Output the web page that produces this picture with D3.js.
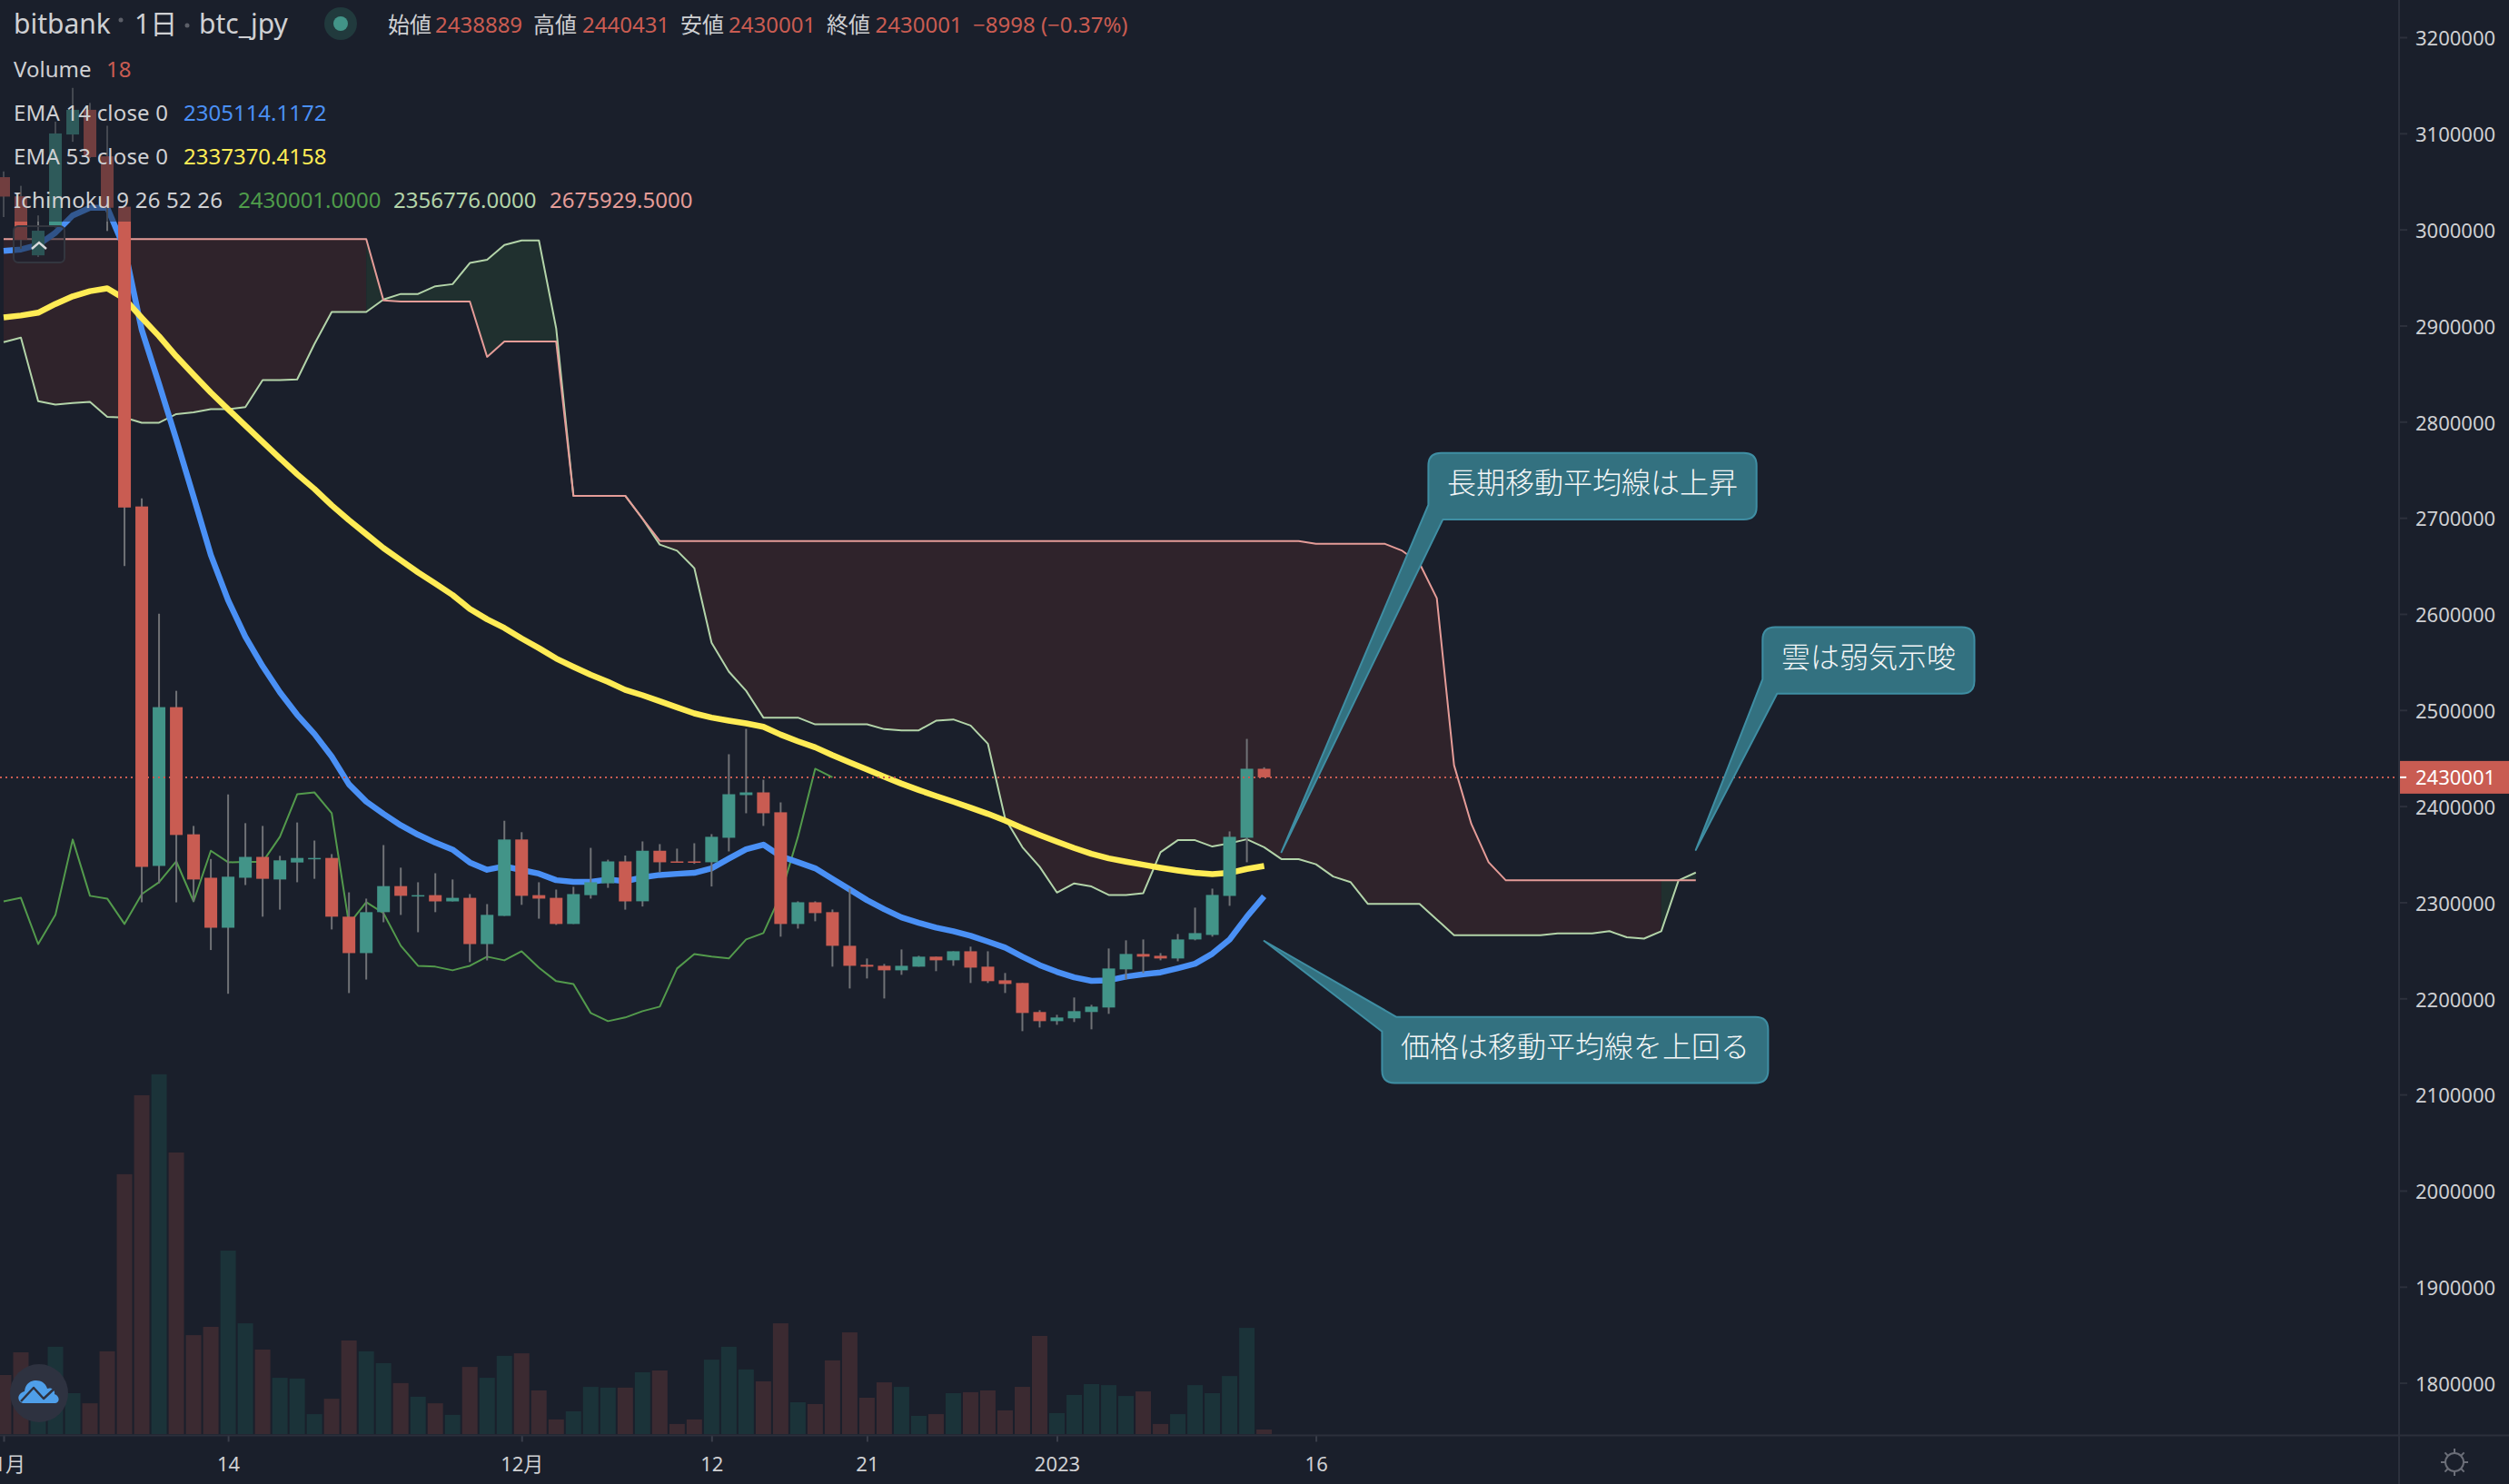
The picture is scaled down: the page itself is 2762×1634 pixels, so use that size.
<!DOCTYPE html>
<html lang="ja">
<head>
<meta charset="utf-8">
<title>bitbank btc_jpy</title>
<script src="https://cdn.jsdelivr.net/npm/d3@7"></script>
<style>
html,body{margin:0;padding:0;background:#1a1f2b;}
svg{display:block;}
text{font-family:"Noto Sans","Noto Sans CJK JP",sans-serif;}
</style>
</head>
<body>
<svg id="chart" width="2762" height="1634"></svg>
<script>
// Prices are in thousands of JPY.
const opens = [3054.4,3034.5,2973.1,3003.8,3098.8,3124.5,3076.1,3023.7,2711.8,2337.8,2503.0,2370.7,2325.5,2273.5,2325.5,2347.2,2323.7,2341.4,2345.4,2346.1,2285.0,2247.1,2289.7,2316.8,2306.7,2307.4,2300.9,2304.6,2256.5,2285.8,2365.3,2307.4,2304.6,2277.4,2307.4,2319.7,2342.5,2301.0,2353.6,2342.5,2342.5,2341.6,2367.1,2411.5,2414.3,2393.6,2277.4,2300.0,2289.7,2254.7,2234.9,2233.9,2229.2,2233.0,2243.4,2239.6,2249.0,2233.0,2218.8,2216.0,2185.8,2176.3,2179.2,2185.8,2190.5,2230.2,2246.2,2244.3,2241.5,2261.3,2266.0,2306.6,2367.1,2438.889];
const highs = [3060.5,3045.4,3014.6,3112.2,3147.3,3131.7,3107.9,3024.5,2720.1,2600.2,2520.0,2379.4,2345.0,2412.2,2382.3,2379.4,2348.3,2383.0,2364.2,2350.1,2310.3,2303.8,2359.5,2336.0,2320.8,2330.2,2323.7,2308.5,2298.1,2384.8,2372.9,2320.8,2313.2,2316.1,2356.6,2344.3,2348.6,2363.3,2360.5,2355.8,2361.4,2370.9,2454.0,2480.4,2427.5,2403.9,2301.0,2301.0,2292.5,2314.2,2241.5,2235.8,2250.9,2244.3,2243.4,2249.0,2253.8,2249.0,2226.4,2216.0,2187.7,2182.9,2200.9,2193.3,2251.9,2260.4,2261.3,2247.1,2267.0,2294.4,2314.2,2373.7,2470.0,2440.431];
const lows = [3012.8,2980.0,2971.3,3002.0,3091.2,3074.3,2998.4,2649.7,2299.9,2319.7,2299.9,2300.6,2250.3,2204.8,2317.9,2285.0,2292.3,2320.8,2324.4,2271.7,2205.5,2219.6,2279.2,2286.8,2268.8,2289.7,2300.9,2237.7,2239.5,2285.8,2297.3,2282.9,2276.4,2277.4,2303.8,2315.0,2292.3,2295.6,2331.2,2341.9,2340.0,2316.4,2352.9,2392.6,2379.4,2264.2,2272.6,2280.2,2233.0,2210.3,2220.7,2199.9,2224.5,2233.0,2228.3,2233.9,2216.0,2216.0,2205.6,2165.9,2169.7,2172.5,2175.4,2167.8,2183.9,2219.8,2226.4,2239.6,2238.6,2260.4,2264.2,2296.3,2341.6,2430.001];
const closes = [3034.2,2989.3,2998.7,3099.9,3124.5,3075.3,3022.6,2710.7,2336.8,2503.0,2370.0,2323.7,2273.5,2326.6,2347.2,2324.4,2343.6,2346.1,2346.1,2285.0,2247.1,2289.7,2316.8,2306.7,2307.4,2300.9,2304.6,2256.5,2286.9,2365.3,2306.7,2303.8,2277.4,2308.5,2320.8,2342.5,2300.9,2353.6,2341.6,2341.9,2341.9,2368.1,2412.4,2414.3,2392.6,2277.4,2300.0,2288.7,2254.7,2233.9,2233.0,2229.2,2233.9,2243.4,2239.6,2249.0,2232.0,2217.9,2215.0,2184.8,2176.3,2180.1,2186.7,2191.4,2231.1,2246.2,2243.4,2241.5,2261.3,2267.9,2307.6,2368.1,2438.9,2430.001];
const volumes = [234,324,212,346,162,122,328,1030,1343,1426,1116,392,425,727,439,335,223,220,79,140,371,328,281,202,148,122,76,266,223,310,320,173,58,90,187,184,184,245,252,40,58,295,346,256,209,439,126,119,292,403,144,205,187,72,79,162,166,173,94,187,389,83,155,198,194,151,169,40,79,194,162,230,421,18];
const ema14 = [2977.8,2979.2,2983.9,2996.6,3014.6,3022.6,3022.6,2980.3,2895.4,2839.3,2781.5,2721.9,2661.3,2614.3,2576.3,2545.6,2518.5,2495.0,2475.1,2451.6,2422.7,2404.7,2392.0,2380.1,2370.3,2362.0,2354.8,2341.4,2333.8,2337.4,2333.5,2329.8,2323.0,2321.2,2321.2,2323.7,2321.9,2325.9,2328.4,2329.6,2330.6,2335.3,2345.4,2355.1,2359.9,2347.9,2341.6,2335.3,2324.3,2313.3,2302.2,2292.8,2284.3,2278.6,2273.6,2269.8,2265.1,2259.1,2252.8,2243.4,2234.6,2227.6,2221.9,2218.2,2218.8,2222.6,2225.1,2227.0,2231.4,2236.1,2246.5,2261.3,2284.9,2306.3];
const ema53 = [2908.4,2910.5,2913.4,2922.5,2930.4,2935.8,2938.7,2928.0,2908.0,2889.0,2868.0,2849.0,2830.3,2813.0,2796.0,2779.0,2762.0,2745.4,2730.0,2713.0,2697.5,2683.0,2668.5,2655.8,2643.2,2631.6,2619.7,2605.2,2594.4,2585.4,2574.5,2564.4,2553.6,2544.9,2536.6,2529.3,2521.0,2515.4,2509.1,2502.8,2496.5,2492.1,2488.9,2486.1,2482.6,2474.4,2467.5,2461.2,2453.0,2445.5,2438.2,2430.7,2423.4,2416.8,2410.5,2404.6,2398.3,2392.0,2385.0,2377.2,2369.9,2363.0,2356.4,2350.4,2345.7,2342.2,2339.1,2335.9,2333.1,2330.6,2329.3,2330.6,2334.7,2337.8];
const laggingSpan = [2300.9,2304.6,2256.5,2286.9,2365.3,2306.7,2303.8,2277.4,2308.5,2320.8,2342.5,2300.9,2353.6,2341.6,2341.9,2341.9,2368.1,2412.4,2414.3,2392.6,2277.4,2300.0,2288.7,2254.7,2233.9,2233.0,2229.2,2233.9,2243.4,2239.6,2249.0,2232.0,2217.9,2215.0,2184.8,2176.3,2180.1,2186.7,2191.4,2231.1,2246.2,2243.4,2241.5,2261.3,2267.9,2307.6,2368.1,2438.9,2430.0];
const spanA = [2882.7,2887.4,2821.3,2817.7,2819.5,2820.6,2805.0,2804.3,2798.9,2798.9,2807.9,2809.7,2813.0,2813.0,2815.1,2843.3,2843.3,2844.0,2880.9,2914.2,2914.2,2914.2,2927.2,2932.9,2932.9,2940.9,2943.1,2965.1,2968.4,2983.9,2988.6,2988.6,2897.2,2722.9,2722.9,2722.9,2722.9,2699.0,2672.1,2665.8,2647.6,2569.9,2540.0,2520.0,2492.1,2492.1,2492.1,2485.1,2485.1,2485.1,2485.1,2480.1,2478.9,2478.9,2488.9,2490.2,2483.9,2465.0,2387.2,2357.3,2336.9,2310.1,2319.6,2316.4,2307.6,2307.6,2309.5,2352.0,2364.6,2364.6,2358.0,2361.4,2365.5,2357.3,2344.9,2344.9,2339.5,2326.8,2321.0,2298.4,2298.4,2298.4,2298.4,2282.1,2265.8,2265.8,2265.8,2265.8,2265.8,2265.8,2267.6,2267.6,2267.6,2269.9,2263.6,2262.2,2269.9,2322.8,2330.9];
const spanB = [2990,2990,2990,2990,2990,2990,2990,2990,2990,2990,2990,2990,2990,2990,2990,2990,2990,2990,2990,2990,2990,2990,2926.1,2925,2925,2925,2925,2925,2867.5,2883.4,2883.4,2883.4,2883.4,2722.9,2722.9,2722.9,2722.9,2699.0,2675.9,2675.9,2675.9,2675.9,2675.9,2675.9,2675.9,2675.9,2675.9,2675.9,2675.9,2675.9,2675.9,2675.9,2675.9,2675.9,2675.9,2675.9,2675.9,2675.9,2675.9,2675.9,2675.9,2675.9,2675.9,2675.9,2675.9,2675.9,2675.9,2675.9,2675.9,2675.9,2675.9,2675.9,2675.9,2675.9,2675.9,2675.9,2672.9,2672.9,2672.9,2672.9,2672.9,2665.7,2652.6,2616.4,2442.5,2381.5,2341.7,2322.8,2322.8,2322.8,2322.8,2322.8,2322.8,2322.8,2322.8,2322.8,2322.8,2322.8,2322.8];
const priceTicks = [3200,3100,3000,2900,2800,2700,2600,2500,2400,2300,2200,2100,2000,1900,1800];
const timeTickIndex = [0,13,30,41,50,61,76];
const timeTickLabels = ["11月","14","12月","12","21","2023","16"];
const lastPrice = 2430.001;
const callouts = [
  {text:"長期移動平均線は上昇", tipIndex:74, tipPrice:2352.1},
  {text:"雲は弱気示唆", tipIndex:98, tipPrice:2354.4},
  {text:"価格は移動平均線を上回る", tipIndex:73, tipPrice:2259.8}
];

const calloutBoxes = [
  {x0:1572.4,x1:1933.7,y0:498.7,y1:571.9,corner:"bottom"},
  {x0:1940.3,x1:2173.5,y0:690.6,y1:763.8,corner:"bottom"},
  {x0:1521.4,x1:1946.4,y0:1119.8,y1:1192.5,corner:"top"}
];

const C = {bg:"#1a1f2b",red:"#c95c52",green:"#429488",wick:"#707276",volRed:"#3b2a31",volGreen:"#1b3339",
  blue:"#4a90f5",yellow:"#ffec55",lag:"#539a4c",a:"#b3d4a9",b:"#e59c98",cloudRed:"#2f232b",cloudGreen:"#20302f",
  axis:"#2c303c",text:"#cfd0d3",call:"#337180",callStroke:"#3f8ea3"};

const svg = d3.select("#chart");
const axisX = 2641, axisY = 1580.5;
const x = d3.scaleLinear().domain([0,73]).range([4,1391.6]);
const y = d3.scaleLinear().domain([3200,1800]).range([41,1522.6]);
const yVol = d3.scaleLinear().domain([0,1500]).range([1579,1162.3]);

svg.append("rect").attr("width",2762).attr("height",1634).attr("fill",C.bg);
svg.append("defs").append("clipPath").attr("id","plot").append("rect")
  .attr("width",axisX).attr("height",axisY);
const plot = svg.append("g").attr("clip-path","url(#plot)");

// cloud fill: runs of segments coloured by the sign at the segment's end
const idx = d3.range(spanA.length);
const runs = [];
for (let i=0;i<idx.length-1;i++){
  const up = spanA[i+1] >= spanB[i+1];
  if(!runs.length || runs[runs.length-1].up!==up) runs.push({up,pts:[i,i+1]});
  else runs[runs.length-1].pts.push(i+1);
}
const cloudArea = d3.area().x(i=>x(i)).y0(i=>y(spanA[i])).y1(i=>y(spanB[i]));
plot.append("g").selectAll("path").data(runs).join("path")
  .attr("d",d=>cloudArea(d.pts)).attr("fill",d=>d.up?C.cloudGreen:C.cloudRed);

// volume
const isUp = i=>closes[i]>=opens[i];
plot.append("g").selectAll("rect").data(volumes).join("rect")
  .attr("x",(d,i)=>x(i)-8.5).attr("width",17)
  .attr("y",d=>yVol(d)).attr("height",d=>yVol(0)-yVol(d))
  .attr("fill",(d,i)=>isUp(i)?C.volGreen:C.volRed);

// lines
const lineOf = arr => d3.line().x((d,i)=>x(i)).y(d=>y(d))(arr);
const addLine=(arr,color,w)=>plot.append("path").attr("d",lineOf(arr)).attr("fill","none")
  .attr("stroke",color).attr("stroke-width",w).attr("stroke-linejoin","round");
addLine(spanA,C.a,2);
addLine(spanB,C.b,2);
addLine(laggingSpan,C.lag,2);
addLine(ema14,C.blue,6.5);
addLine(ema53,C.yellow,6.5);

// candles
const candles = plot.append("g").selectAll("g").data(opens).join("g");
candles.append("line").attr("x1",(d,i)=>x(i)).attr("x2",(d,i)=>x(i))
  .attr("y1",(d,i)=>y(highs[i])).attr("y2",(d,i)=>y(lows[i]))
  .attr("stroke",C.wick).attr("stroke-width",2);
candles.append("rect").attr("x",(d,i)=>x(i)-7).attr("width",14)
  .attr("y",(d,i)=>y(Math.max(opens[i],closes[i])))
  .attr("height",(d,i)=>Math.max(1.5,Math.abs(y(opens[i])-y(closes[i]))))
  .attr("fill",(d,i)=>isUp(i)?C.green:C.red);

// last price line
plot.append("line").attr("x1",0).attr("x2",axisX).attr("y1",y(lastPrice)).attr("y2",y(lastPrice))
  .attr("stroke",C.red).attr("stroke-width",2).attr("stroke-dasharray","2 4");

// legend dimming panel and collapse button
svg.append("rect").attr("x",0).attr("y",0).attr("width",770).attr("height",244).attr("fill",C.bg).attr("opacity",0.5);
svg.append("rect").attr("x",15).attr("y",249).attr("width",56).attr("height",40).attr("rx",5)
  .attr("fill",C.bg).attr("fill-opacity",0.55).attr("stroke","#33363f").attr("stroke-width",2);
svg.append("path").attr("d","M35 274 L43 267 L51 274").attr("fill","none").attr("stroke","#d8d9dc").attr("stroke-width",2.4);

// legend text
const leg = svg.append("g");
const T=(txt,px,py,size,fill)=>leg.append("text").attr("x",px).attr("y",py).attr("font-size",size).attr("fill",fill).text(txt);
T("bitbank",15,37,30,C.text);
T("1日",148,37,30,C.text);
T("btc_jpy",219,37,30,C.text);
leg.append("circle").attr("cx",133).attr("cy",22).attr("r",2.5).attr("fill","#5c5f68");
leg.append("circle").attr("cx",206).attr("cy",28).attr("r",2.5).attr("fill","#5c5f68");
leg.append("circle").attr("cx",375).attr("cy",26).attr("r",18).attr("fill","#213a3d");
leg.append("circle").attr("cx",375).attr("cy",26).attr("r",8).attr("fill",C.green);
[["始値",427,"2438889",479],["高値",587,"2440431",641],["安値",749,"2430001",802],["終値",910,"2430001",963.5]].forEach(r=>{
  T(r[0],r[1],36,24,C.text); T(r[2],r[3],36,24,C.red);
});
T("−8998 (−0.37%)",1071,36,24,C.red);
T("Volume",15,85,24,C.text); T("18",117,85,24,C.red);
T("EMA 14 close 0",15,133,24,C.text).attr("textLength",170);
T("2305114.1172",202,133,24,C.blue);
T("EMA 53 close 0",15,181,24,C.text).attr("textLength",170);
T("2337370.4158",202,181,24,C.yellow);
T("Ichimoku 9 26 52 26",15,229,24,C.text).attr("textLength",230);
T("2430001.0000",262,229,24,"#4f9c4a"); T("2356776.0000",433,229,24,C.a); T("2675929.5000",605,229,24,C.b);

// callouts
const callG = svg.append("g");
callouts.forEach((c,k)=>{
  const b=calloutBoxes[k], r=14, s=16, tx=x(c.tipIndex), ty=y(c.tipPrice);
  let p;
  if(b.corner==="bottom"){
    p=`M${b.x0+r},${b.y0}H${b.x1-r}Q${b.x1},${b.y0} ${b.x1},${b.y0+r}V${b.y1-r}Q${b.x1},${b.y1} ${b.x1-r},${b.y1}H${b.x0+s}L${tx},${ty}L${b.x0},${b.y1-s}V${b.y0+r}Q${b.x0},${b.y0} ${b.x0+r},${b.y0}Z`;
  } else {
    p=`M${tx},${ty}L${b.x0+s},${b.y0}H${b.x1-r}Q${b.x1},${b.y0} ${b.x1},${b.y0+r}V${b.y1-r}Q${b.x1},${b.y1} ${b.x1-r},${b.y1}H${b.x0+r}Q${b.x0},${b.y1} ${b.x0},${b.y1-r}V${b.y0+s}Z`;
  }
  callG.append("path").attr("d",p).attr("fill",C.call).attr("stroke",C.callStroke).attr("stroke-width",2).attr("stroke-linejoin","round");
  callG.append("text").attr("x",(b.x0+b.x1)/2).attr("y",(b.y0+b.y1)/2-6).attr("text-anchor","middle")
    .attr("dominant-baseline","central").attr("font-size",32).attr("fill","#f3f6f7")
    .style("font-family",'"Noto Sans CJK JP",sans-serif').style("font-weight",300).text(c.text);
});

// price axis
const yAxis = d3.axisRight(y).tickValues(priceTicks).tickFormat(d=>d3.format("d")(d*1000)).tickSize(9).tickPadding(9);
const gy = svg.append("g").attr("transform",`translate(${axisX},0)`).call(yAxis);
gy.select(".domain").remove();
gy.selectAll("line").attr("stroke",C.axis).attr("stroke-width",2);
gy.selectAll("text").attr("fill",C.text).attr("font-size",22).attr("dy","0.40em").style("font-family",'"Noto Sans",sans-serif');

// last price label
const lp = svg.append("g");
lp.append("rect").attr("x",axisX-1).attr("y",y(lastPrice)-18).attr("width",122).attr("height",36).attr("fill",C.red);
lp.append("line").attr("x1",axisX).attr("x2",axisX+8).attr("y1",y(lastPrice)).attr("y2",y(lastPrice)).attr("stroke","#fff").attr("stroke-width",2);
lp.append("text").attr("x",axisX+18).attr("y",y(lastPrice)).attr("dy","0.36em").attr("font-size",22).attr("fill","#fff").text("2430001");

// time axis
const xAxis = d3.axisBottom(x).tickValues(timeTickIndex).tickFormat((d,i)=>timeTickLabels[i]).tickSize(7).tickPadding(17);
const gx = svg.append("g").attr("transform",`translate(0,${axisY})`).call(xAxis);
gx.select(".domain").remove();
gx.selectAll("line").attr("stroke","#3a3e4a").attr("stroke-width",2);
gx.selectAll("text").attr("fill",C.text).attr("font-size",22).style("font-family",'"Noto Sans","Noto Sans CJK JP",sans-serif');
svg.append("line").attr("x1",0).attr("x2",2762).attr("y1",axisY).attr("y2",axisY).attr("stroke",C.axis).attr("stroke-width",2);
svg.append("line").attr("x1",axisX).attr("x2",axisX).attr("y1",0).attr("y2",1634).attr("stroke",C.axis).attr("stroke-width",2);

// gear
const gear = svg.append("g").attr("transform","translate(2702,1610)").attr("stroke","#6b6e78").attr("stroke-width",2).attr("fill","none");
gear.append("circle").attr("r",10);
d3.range(8).forEach(k=>{const a=k*Math.PI/4;
  gear.append("line").attr("x1",10*Math.cos(a)).attr("y1",10*Math.sin(a)).attr("x2",15*Math.cos(a)).attr("y2",15*Math.sin(a));});

// logo
const logo = svg.append("g").attr("transform","translate(43,1534)");
logo.append("circle").attr("r",32).attr("fill","#2e3240");
logo.append("path").attr("fill","#4f9fe9").attr("d","M-18,11 C-25,9 -24,0 -16,-2 C-15,-11 -9,-14 -3,-14 C4,-14 8,-9 9,-5 C14,-7 18,-3 17,1 C23,3 23,10 18,11 Z");
logo.append("path").attr("fill","none").attr("stroke","#2e3240").attr("stroke-width",2.5).attr("stroke-linejoin","round")
  .attr("d","M-20,9 L-6,-6 L5,6 L19,-7");
</script>
</body>
</html>
